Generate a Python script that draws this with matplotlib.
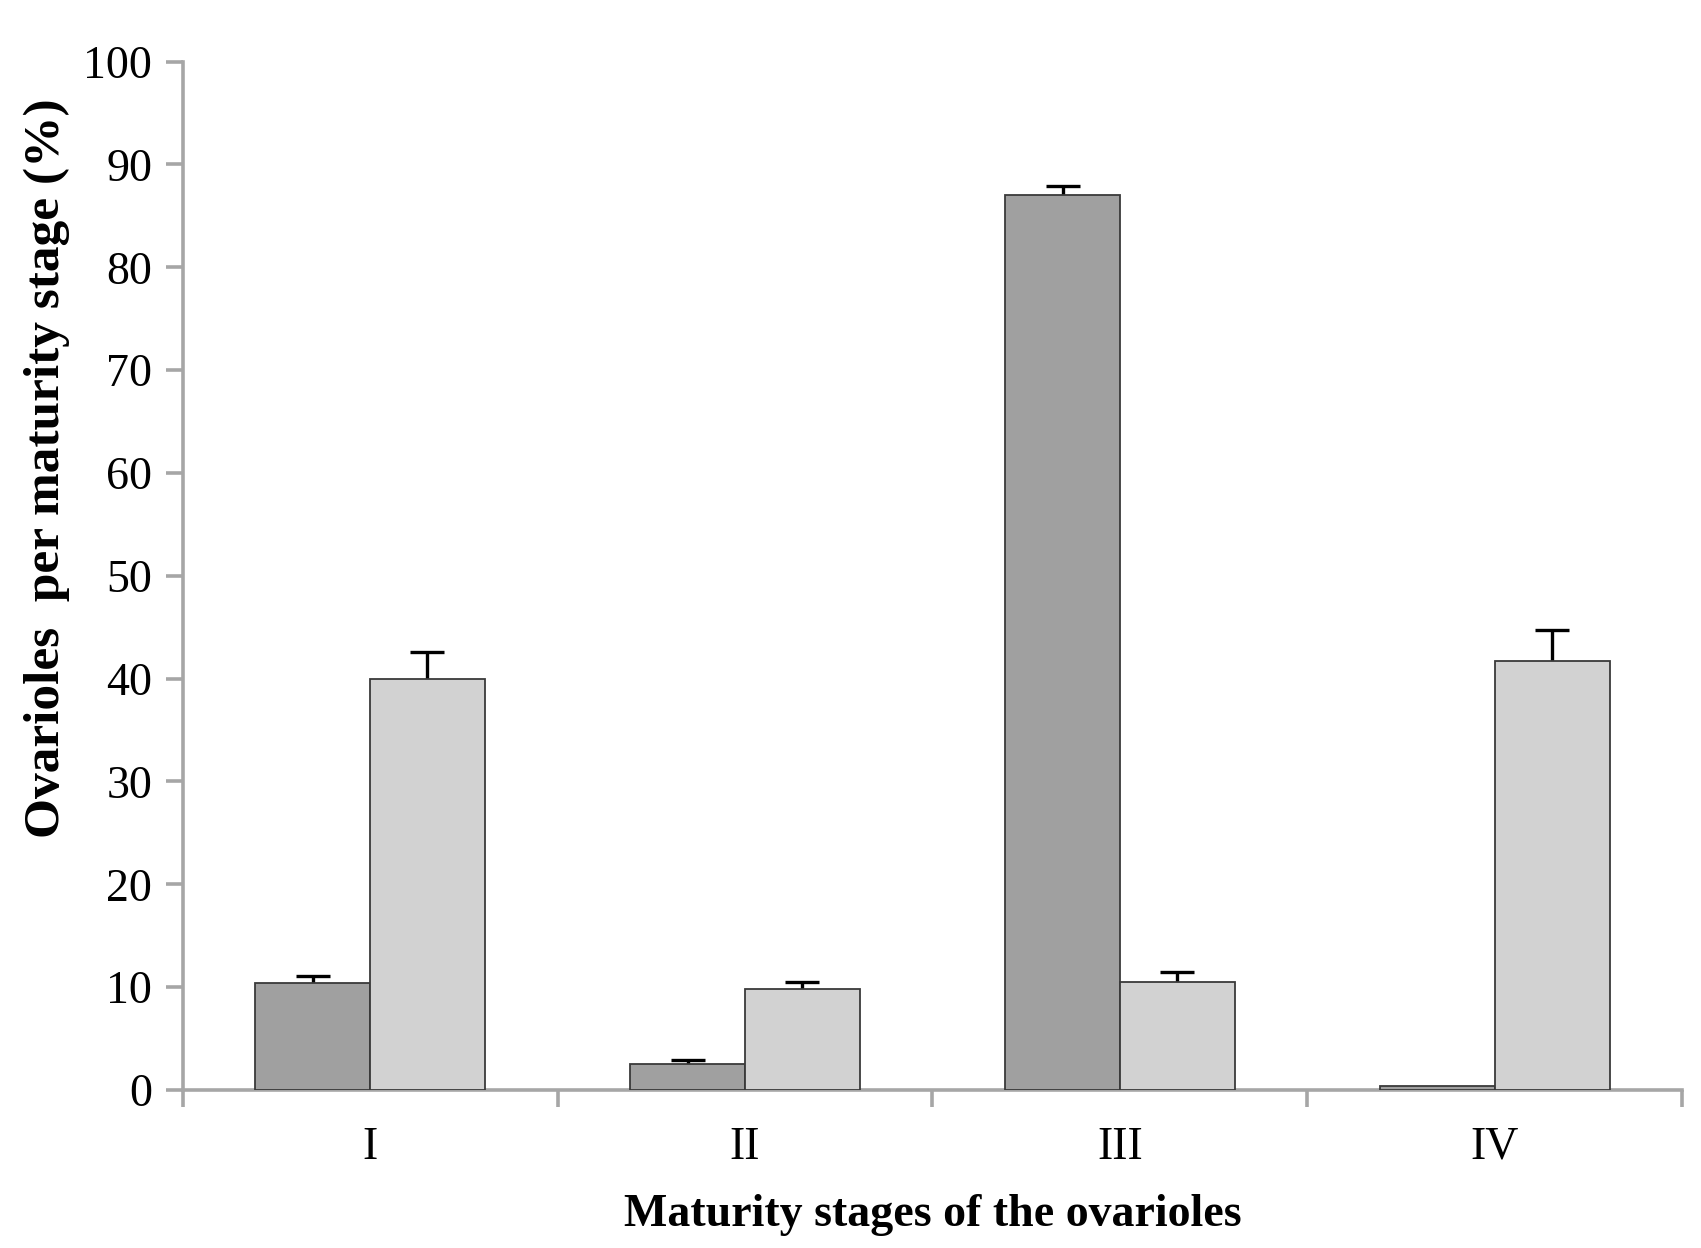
import matplotlib.pyplot as plt
import numpy as np

# Maturity stages and the two series
stages = ['I', 'II', 'III', 'IV']
dark_vals = [10.4, 2.5, 87.0, 0.4]
dark_err = [0.7, 0.4, 0.9, np.nan]
light_vals = [40.0, 9.8, 10.5, 41.7]
light_err = [2.6, 0.7, 1.0, 3.0]

plt.rcParams['font.family'] = ['Liberation Serif', 'DejaVu Serif']

axis_grey = '#a6a6a6'

fig = plt.figure(figsize=(17.01, 12.48), dpi=100)
ax = fig.add_axes([0.1074, 0.1266, 0.8816, 0.824])

x = np.arange(len(stages))
w = 0.306
# error bars sit behind the bars, so only the upper half shows
ekw = dict(fmt='none', ecolor='black', elinewidth=2.4, capsize=12, capthick=2.4, zorder=2)
ax.errorbar(x - w / 2, dark_vals, yerr=dark_err, **ekw)
ax.errorbar(x + w / 2, light_vals, yerr=light_err, **ekw)
ax.bar(x - w / 2, dark_vals, w, color='#a0a0a0', edgecolor='#3a3a3a', linewidth=1.3, zorder=3)
ax.bar(x + w / 2, light_vals, w, color='#d2d2d2', edgecolor='#3a3a3a', linewidth=1.3, zorder=3)

ax.set_xlim(-0.5, 3.5)
ax.set_ylim(0, 100)
ax.set_yticks(range(0, 101, 10))

ax.set_xticks(x)
ax.set_xticklabels(stages, fontsize=33)
ax.set_xticks(np.arange(-0.5, 4.0, 1.0), minor=True)
ax.tick_params(axis='x', which='major', length=0, pad=26)
ax.tick_params(axis='x', which='minor', length=12, width=2.6, color=axis_grey, direction='out')
ax.tick_params(axis='y', labelsize=33, length=12, width=2.6, color=axis_grey, pad=10)

for s in ['top', 'right']:
    ax.spines[s].set_visible(False)
for s in ['left', 'bottom']:
    ax.spines[s].set_color(axis_grey)
    ax.spines[s].set_linewidth(2.6)

ax.set_xlabel('Maturity stages of the ovarioles', fontsize=33, fontweight='bold', labelpad=18)
ax.set_ylabel('Ovarioles  per maturity stage (%)', fontsize=37, fontweight='bold')
ax.yaxis.set_label_coords(-0.075, 0.605)

fig.savefig('out.png', dpi=100)
